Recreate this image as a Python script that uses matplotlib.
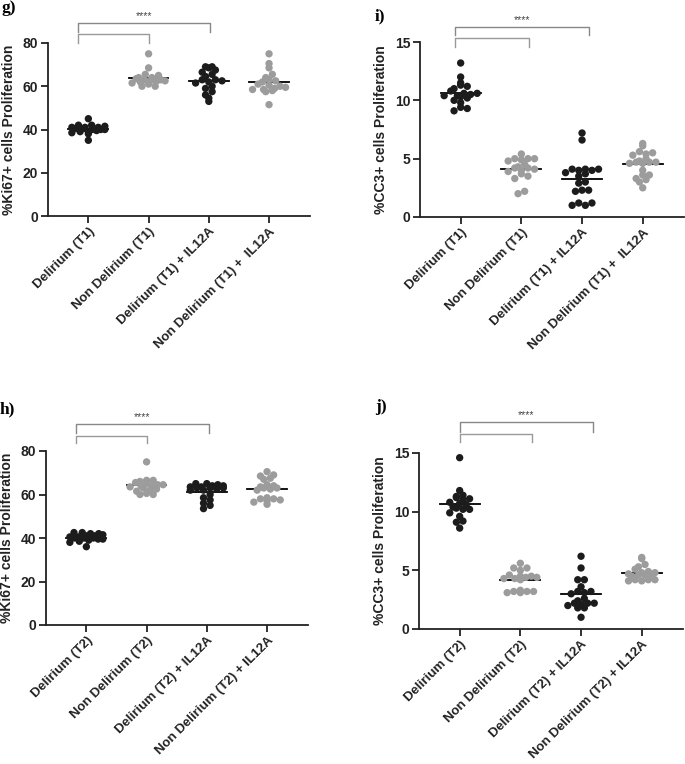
import numpy as np
import matplotlib
matplotlib.use("Agg")
from matplotlib import pyplot as plt

plt.rcParams['font.family'] = ['Liberation Sans', 'DejaVu Sans']

PRETO = '#1c1c1c'
CINZA = '#9c9c9c'
cores = [PRETO, CINZA, PRETO, CINZA]

rotulos_t1 = ["Delirium (T1)", "Non Delirium (T1)", "Delirium (T1) + IL12A", "Non Delirium (T1) +  IL12A"]
rotulos_t2 = ["Delirium (T2)", "Non Delirium (T2)", "Delirium (T2) + IL12A", "Non Delirium (T2) + IL12A"]

# g) Ki67 T1
ki67_t1_del = [45, 35, 41.5, 41, 42, 40, 39, 38.5, 40.5, 41, 39.5, 40, 42, 41, 38, 39, 40, 40.5]
ki67_t1_non = [75, 68.5, 65.5, 65, 64, 63.5, 63, 63, 62.5, 62, 62, 61.5, 61, 60, 60, 63, 64, 62.5]
ki67_t1_del_il = [69, 69, 68.5, 67.5, 66.5, 65.5, 64.5, 63, 63, 62.5, 62, 61.5, 60, 59, 57.5, 56, 54.5, 53]
ki67_t1_non_il = [75, 70.5, 68.5, 65.5, 64, 63, 62.5, 62, 61, 60.5, 60, 59.5, 59, 58.5, 58.5, 58, 57.5, 51.5]

# i) CC3 T1
cc3_t1_del = [13.2, 12.0, 11.5, 11.3, 11.2, 11.0, 10.8, 10.6, 10.6, 10.5, 10.4, 10.4, 10.3, 10.2, 10.0, 9.8, 9.3, 9.1, 9.4]
cc3_t1_non = [5.4, 5.0, 5.0, 5.0, 4.9, 4.8, 4.5, 4.3, 4.2, 4.2, 4.1, 4.0, 3.9, 3.7, 3.5, 3.3, 2.2, 2.0]
cc3_t1_del_il = [7.2, 6.6, 4.1, 4.1, 4.1, 4.0, 4.0, 3.8, 3.7, 3.5, 3.0, 2.9, 2.3, 2.3, 2.2, 1.2, 1.0, 1.0, 1.2]
cc3_t1_non_il = [6.3, 6.1, 5.6, 5.5, 5.4, 5.3, 5.0, 4.8, 4.7, 4.7, 4.7, 4.6, 4.6, 4.0, 3.6, 3.6, 3.3, 3.2, 3.0, 2.5]

# h) Ki67 T2
ki67_t2_del = [42.5, 42.5, 42, 42, 41.5, 41, 41, 40.5, 40.5, 40, 40, 40, 39.5, 39.5, 39, 38.5, 38, 36]
ki67_t2_non = [75, 66.5, 66.5, 66, 65.5, 65, 64.5, 64.5, 64, 64, 63.5, 63, 62.5, 62, 61.5, 60.5, 60, 60]
ki67_t2_del_il = [65, 65, 64.5, 64, 64, 63.5, 63.5, 63, 63, 63, 62.5, 62, 62, 60, 58.5, 57.5, 56, 55, 53.5]
ki67_t2_non_il = [70.5, 69, 68.5, 67.5, 67, 64.5, 64, 63.5, 63, 63, 62.5, 62, 58.5, 58, 58, 57.5, 57, 56.5, 55.5]

# j) CC3 T2
cc3_t2_del = [14.6, 11.8, 11.4, 11.3, 11.2, 11.1, 11.0, 10.8, 10.7, 10.6, 10.4, 10.3, 10.2, 10.2, 9.9, 9.6, 9.2, 9.1, 8.6]
cc3_t2_non = [5.6, 5.2, 5.2, 5.0, 4.6, 4.5, 4.5, 4.4, 4.4, 4.3, 4.3, 4.2, 3.3, 3.2, 3.2, 3.2, 3.1, 3.1]
cc3_t2_del_il = [6.2, 5.2, 4.2, 4.2, 3.6, 3.2, 3.2, 3.1, 3.0, 2.6, 2.4, 2.2, 2.2, 2.2, 2.1, 2.0, 1.8, 1.8, 1.0]
cc3_t2_non_il = [6.1, 6.0, 5.5, 5.3, 5.1, 4.9, 4.8, 4.8, 4.7, 4.6, 4.6, 4.5, 4.2, 4.2, 4.2, 4.1, 4.1, 4.6]


def espalha(ax, xc, vals, h, sp, larg_max):
    # estilo Prism: agrupa em linhas de altura h (px) e poe lado a lado
    tr = ax.transData
    px_x = tr.transform((1, 0))[0] - tr.transform((0, 0))[0]
    y0 = tr.transform((0, 0))[1]
    linhas = {}
    for i, v in enumerate(vals):
        yp = tr.transform((xc, v))[1] - y0
        linhas.setdefault(int(yp // h), []).append(i)
    offs = np.zeros(len(vals))
    for k, idx in linhas.items():
        idx = sorted(idx, key=lambda j: vals[j])
        n = len(idx)
        # zigue-zague: alterna valores baixos e altos na linha
        ordem = []
        a, b = 0, n - 1
        while a <= b:
            ordem.append(idx[a])
            if a != b:
                ordem.append(idx[b])
            a += 1
            b -= 1
        passo = sp
        if n > 1:
            passo = min(sp, larg_max / (n - 1))
        for pos, j in enumerate(ordem):
            offs[j] = (pos - (n - 1) / 2.0) * passo
    return xc + offs / px_x


def painel(rect, grupos, rotulos, ylabel, yticks, brackets, letra, letra_pos):
    ax = fig.add_axes(rect)
    ymax = yticks[-1]
    ax.set_xlim(-0.67, 3.68)
    ax.set_ylim(0, ymax)
    for i, vals in enumerate(grupos):
        xs = espalha(ax, i, vals, 5.5, 6.6, 33)
        m = np.mean(vals)
        ax.plot([i - 0.33, i + 0.33], [m, m], color='black', lw=1.3, zorder=2)
        ax.scatter(xs, vals, s=28, color=cores[i], edgecolors='none', zorder=3, clip_on=False)
    ax.spines['top'].set_visible(False)
    ax.spines['right'].set_visible(False)
    ax.spines['left'].set_linewidth(1.3)
    ax.spines['bottom'].set_linewidth(1.3)
    ax.spines['left'].set_color('#222222')
    ax.spines['bottom'].set_color('#222222')
    ax.set_yticks(yticks)
    ax.set_yticklabels([str(t) for t in yticks], fontsize=10, fontweight='bold', color='#222222')
    ax.set_xticks(range(4))
    ax.set_xticklabels(rotulos, rotation=45, ha='right', va='top', rotation_mode='anchor',
                       fontsize=9.5, fontweight='bold', color='#222222')
    ax.tick_params(axis='both', length=5, width=1.3, color='#222222', pad=2)
    ax.set_ylabel(ylabel, fontsize=10, fontweight='bold', color='#222222', labelpad=5)
    # barras de significancia
    for (x0, x1, topo, base, cor) in brackets:
        ax.plot([x0, x0, x1, x1], [base, topo, topo, base], color=cor, lw=1.0, clip_on=False)
    sx = (brackets[1][0] + brackets[1][1]) / 2
    ax.text(sx, brackets[1][2] + ymax * 0.012, "****", ha='center', va='bottom', fontsize=7.5,
            color='#444444')
    fig.text(letra_pos[0], letra_pos[1], letra, family='Liberation Serif', fontweight='bold',
             fontsize=12.5, ha='left', va='top')
    return ax


fig = plt.figure(figsize=(6.85, 7.64), dpi=100)
W, H = 685.0, 764.0

def ret(l, r, t, b):
    return [l / W, 1 - b / H, (r - l) / W, (b - t) / H]

painel(ret(48, 310, 43, 216), [ki67_t1_del, ki67_t1_non, ki67_t1_del_il, ki67_t1_non_il],
       rotulos_t1, "%Ki67+ cells Proliferation", [0, 20, 40, 60, 80],
       [(-0.18, 1.0, 84.2, 80.0, '#999999'), (-0.18, 2.02, 89.2, 85.0, '#888888')],
       "g)", (2 / W, 1 - 0 / H))

painel(ret(420, 684, 42, 217), [cc3_t1_del, cc3_t1_non, cc3_t1_del_il, cc3_t1_non_il],
       rotulos_t1, "%CC3+ cells Proliferation", [0, 5, 10, 15],
       [(-0.1, 1.12, 15.35, 14.6, '#999999'), (-0.1, 2.12, 16.3, 15.6, '#888888')],
       "i)", (375 / W, 1 - 8 / H))

painel(ret(46, 308, 451, 625), [ki67_t2_del, ki67_t2_non, ki67_t2_del_il, ki67_t2_non_il],
       rotulos_t2, "%Ki67+ cells Proliferation", [0, 20, 40, 60, 80],
       [(-0.17, 1.0, 86.9, 83.7, '#999999'), (-0.17, 2.03, 92.4, 88.3, '#888888')],
       "h)", (0 / W, 1 - 401 / H))

painel(ret(419, 683, 453, 629), [cc3_t2_del, cc3_t2_non, cc3_t2_del_il, cc3_t2_non_il],
       rotulos_t2, "%CC3+ cells Proliferation", [0, 5, 10, 15],
       [(0.0, 1.2, 16.6, 15.9, '#999999'), (0.0, 2.2, 17.6, 16.8, '#888888')],
       "j)", (375 / W, 1 - 399 / H))

fig.savefig("out.png", dpi=100)
